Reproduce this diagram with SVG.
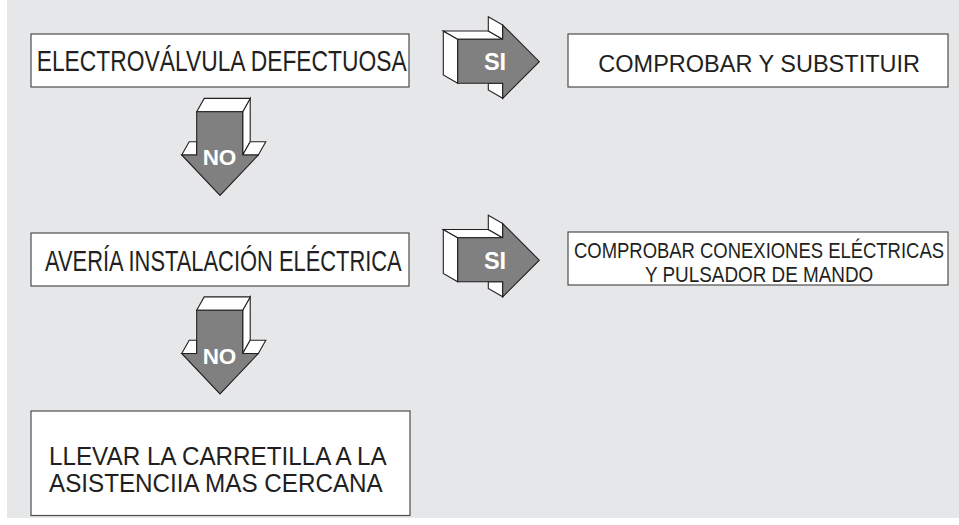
<svg xmlns="http://www.w3.org/2000/svg" width="959" height="525" viewBox="0 0 959 525">
<style>
.bg{fill:#e6e7e9}
.box{fill:#ffffff;stroke:#4d4d4d;stroke-width:1.2}
.t{font-family:"Liberation Sans",Arial,sans-serif;fill:#231f20}
.face{fill:#ffffff;stroke:#231f20;stroke-width:1.1;stroke-linejoin:miter}
.front{fill:#808080;stroke:#231f20;stroke-width:1.1;stroke-linejoin:miter}
.lbl{font-family:"Liberation Sans",Arial,sans-serif;font-weight:bold;fill:#ffffff;text-anchor:middle}
</style>
<defs>
<g id="siArrow">
<polygon class="face" points="443.3,31 457.7,39.3 457.7,83.3 443.3,75"/>
<polygon class="face" points="443.3,31 488.3,31 502.7,39.3 457.7,39.3"/>
<polygon class="face" points="488.3,16.7 502.7,25 502.7,39.3 488.3,31"/>
<polygon class="face" points="488.3,83.3 502.7,83.3 502.7,98.3 488.3,90"/>
<polygon class="front" points="457.7,39.3 502.7,39.3 502.7,25 539.3,61.7 502.7,98.3 502.7,83.3 457.7,83.3"/>
<text class="lbl" x="495" y="70" font-size="23.5">SI</text>
</g>
<g id="noArrow">
<polygon class="face" points="242.7,111.7 250.2,98.4 250.2,141.7 242.7,155"/>
<polygon class="face" points="196.7,111.7 204.2,98.4 250.2,98.4 242.7,111.7"/>
<polygon class="face" points="181.7,155 189.2,141.7 196.7,141.7 196.7,155"/>
<polygon class="face" points="242.7,155 250.2,141.7 265.8,141.7 258.3,155"/>
<polygon class="front" points="196.7,111.7 242.7,111.7 242.7,155 258.3,155 220,195.5 181.7,155 196.7,155"/>
<text class="lbl" x="219.5" y="165" font-size="22.5">NO</text>
</g>
</defs>
<rect class="bg" x="7" y="0" width="952" height="518"/>
<g id="connectors">
<use id="si1" href="#siArrow"/>
<use id="si2" href="#siArrow" transform="translate(0,198.5)"/>
<use id="no1" href="#noArrow"/>
<use id="no2" href="#noArrow" transform="translate(0,198.5)"/>
</g>
<g id="n1">
<rect class="box" x="31" y="34" width="378" height="53"/>
<text class="t" x="36.7" y="70.7" font-size="29.5" textLength="370" lengthAdjust="spacingAndGlyphs">ELECTROVÁLVULA DEFECTUOSA</text>
</g>
<g id="n2">
<rect class="box" x="568" y="34" width="380" height="53"/>
<text class="t" x="598.3" y="71.7" font-size="23" textLength="321.7" lengthAdjust="spacingAndGlyphs">COMPROBAR Y SUBSTITUIR</text>
</g>
<g id="n3">
<rect class="box" x="31" y="233" width="378" height="53"/>
<text class="t" x="45" y="271" font-size="29" textLength="356.7" lengthAdjust="spacingAndGlyphs">AVERÍA INSTALACIÓN ELÉCTRICA</text>
</g>
<g id="n4">
<rect class="box" x="568" y="232" width="380" height="53"/>
<text class="t" x="574" y="258.3" font-size="22" textLength="370" lengthAdjust="spacingAndGlyphs">COMPROBAR CONEXIONES ELÉCTRICAS</text>
<text class="t" x="645" y="281.7" font-size="22" textLength="228.3" lengthAdjust="spacingAndGlyphs">Y PULSADOR DE MANDO</text>
</g>
<g id="n5">
<rect class="box" x="31" y="411" width="379" height="104.5"/>
<text class="t" x="49" y="465" font-size="26.5" textLength="337.7" lengthAdjust="spacingAndGlyphs">LLEVAR LA CARRETILLA A LA</text>
<text class="t" x="49" y="491.7" font-size="26.5" textLength="333.7" lengthAdjust="spacingAndGlyphs">ASISTENCIIA MAS CERCANA</text>
</g>
</svg>
